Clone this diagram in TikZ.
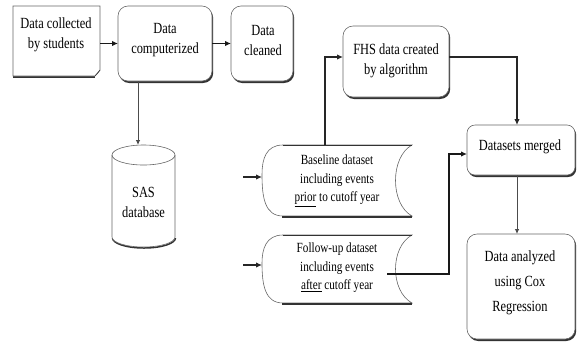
\documentclass[tikz,border=0pt]{standalone}
\usepackage{fontspec}
\usepackage{graphicx}
\setmainfont{Liberation Serif}
\usetikzlibrary{arrows.meta}

% one line of narrow text
\newcommand\nl[1]{\scalebox{0.8}[1]{#1}}

% draws a "stored data" outline (convex left side, concave right side) on a frame node
\newcommand\storedshape[1]{%
  \draw[outline]
    ([shift={(21,0)}]#1.north west) -- (#1.north east)
      .. controls ([shift={(-22,12)}]#1.north east) and ([shift={(-22,-12)}]#1.south east) .. (#1.south east)
      -- ([shift={(21,0)}]#1.south west)
      .. controls ([shift={(3,0)}]#1.south west) and ([shift={(0,-18)}]#1.south west) .. ([shift={(0,-6)}]#1.west)
      .. controls ([shift={(0,14)}]#1.north west) and ([shift={(4,0)}]#1.north west) .. cycle;
  \draw[black!80, line width=0.9pt] ([shift={(21,0)}]#1.north west) -- (#1.north east);
  \draw[black!80, line width=1.6pt] ([shift={(20,1)}]#1.south west) -- ([shift={(0,1)}]#1.south east);
}
% rounded box with a dark drop shadow
\newcommand\roundbox[2]{%
  \fill[shadowfill, rounded corners=#2] ([shift={(1.2,2)}]#1.north west) rectangle ([shift={(1.2,2)}]#1.south east);
  \draw[outline, rounded corners=#2] (#1.north west) rectangle (#1.south east);
}

\begin{document}
\begin{tikzpicture}[x=1pt,y=-1pt,
  frame/.style 2 args={minimum width=#1, minimum height=#2, inner sep=0pt, outer sep=0pt, draw=none},
  outline/.style={draw=black!60, line width=0.6pt, fill=white},
  shadowfill/.style={fill=black!80},
  txt/.style={align=center, inner sep=0pt, font=\fontsize{15.5}{20}\selectfont},
  dtxt/.style={align=center, inner sep=0pt, font=\fontsize{14}{18.5}\selectfont},
  bigtxt/.style={align=center, inner sep=0pt, font=\fontsize{15.5}{25}\selectfont},
  tip/.style={-{Latex[length=6pt,width=5.5pt]}},
  smalltip/.style={-{Latex[length=5pt,width=4.5pt]}},
  thickline/.style={tip, line width=1.8pt, black!90},
  midline/.style={tip, line width=1.2pt, black!85},
  thinline/.style={smalltip, line width=0.8pt, black!70},
]
\useasboundingbox (0,0) rectangle (577,341);

% frames of the shapes
\node[frame={87pt}{70pt}]  (collect)  at (56.5,41)   {};
\node[frame={94pt}{75pt}]  (comp)     at (165,43.5)  {};
\node[frame={62pt}{75pt}]  (clean)    at (262,43.5)  {};
\node[frame={63pt}{102pt}] (sas)      at (143.5,196) {};
\node[frame={150pt}{71pt}] (base)     at (337,180.5) {};
\node[frame={150pt}{68pt}] (follow)   at (337,269)   {};
\node[frame={106pt}{71pt}] (fhs)      at (396,61.5)  {};
\node[frame={108pt}{50pt}] (merged)   at (521,150)   {};
\node[frame={108pt}{105pt}](analyzed) at (521,286.5) {};

% document shape with a folded corner
\draw[black!80, line width=1.6pt] ([shift={(0,1)}]collect.south west) -- ([shift={(-5,1)}]collect.south east);
\draw[outline] (collect.north west) -- (collect.north east) -- ([shift={(0,-6)}]collect.south east)
  -- ([shift={(-5,0)}]collect.south east) -- (collect.south west) -- cycle;
\draw[black!75, line width=0.7pt] ([shift={(0,-6)}]collect.south east) .. controls ([shift={(-3,-4)}]collect.south east) and ([shift={(-2,-1)}]collect.south east) .. ([shift={(-5,0)}]collect.south east);

% rounded process boxes
\roundbox{comp}{10pt}
\roundbox{clean}{10pt}
\roundbox{fhs}{10pt}
\roundbox{merged}{8pt}
\roundbox{analyzed}{10pt}

% database cylinder
\draw[black!80, line width=1.5pt] ([shift={(0.5,-9)}]sas.south west) arc[start angle=180, end angle=360, x radius=31.5pt, y radius=10pt];
\draw[outline] ([shift={(0,10)}]sas.north west) -- ([shift={(0,-10)}]sas.south west)
  arc[start angle=180, end angle=360, x radius=31.5pt, y radius=10pt]
  -- ([shift={(0,10)}]sas.north east)
  arc[start angle=0, end angle=180, x radius=31.5pt, y radius=10pt] -- cycle;
\draw[outline, fill=none] ([shift={(0,10)}]sas.north west) arc[start angle=180, end angle=360, x radius=31.5pt, y radius=10pt];

% stored data shapes
\storedshape{base}
\storedshape{follow}

% texts
\node[txt]    (collect-t)  at (56,35)    {\nl{Data collected}\\\nl{by students}};
\node[txt]    (comp-t)     at (165,40)   {\nl{Data}\\\nl{computerized}};
\node[txt]    (clean-t)    at (263,40)   {\nl{Data}\\\nl{cleaned}};
\node[txt]    (sas-t)      at (143.5,202){\nl{SAS}\\\nl{database}};
\node[dtxt]   (base-t)     at (337,181)  {\nl{Baseline dataset}\\\nl{including events}\\\nl{\underline{prior} to cutoff year}};
\node[dtxt]   (follow-t)   at (337,268)  {\nl{Follow-up dataset}\\\nl{including events}\\\nl{\underline{after} cutoff year}};
\node[txt]    (fhs-t)      at (396,61)   {\nl{FHS data created}\\\nl{by algorithm}};
\node[txt]    (merged-t)   at (520,147)  {\nl{Datasets merged}};
\node[bigtxt] (analyzed-t) at (520,283)  {\nl{Data analyzed}\\\nl{using Cox}\\\nl{Regression}};

% connectors
\coordinate (sastop) at (138,145);
\coordinate (inA) at (243,177);
\coordinate (inB) at (243,265);
\coordinate (jn) at (449,274);

\draw[thickline] (collect.east |- comp.west) -- (comp.west);
\draw[thickline] (comp.east) -- (clean.west);
\draw[thinline] (comp.south -| sastop) -- (sastop);
\draw[midline] ([shift={(-12,0)}]base.north) |- ([shift={(0,-4.5)}]fhs.west);
\draw[midline] ([shift={(0,-4.5)}]fhs.east) -| ([shift={(-4,0)}]merged.north);
\draw[thickline] ([shift={(-25,5)}]follow.east) -- (jn) |- ([shift={(0,4)}]merged.west);
\draw[thinline] ([shift={(-4,0)}]merged.south) -- ([shift={(-4,0)}]analyzed.north);
\draw[midline] (inA) -- (base.west |- inA);
\draw[midline] (inB) -- (follow.west |- inB);
\end{tikzpicture}
\end{document}
